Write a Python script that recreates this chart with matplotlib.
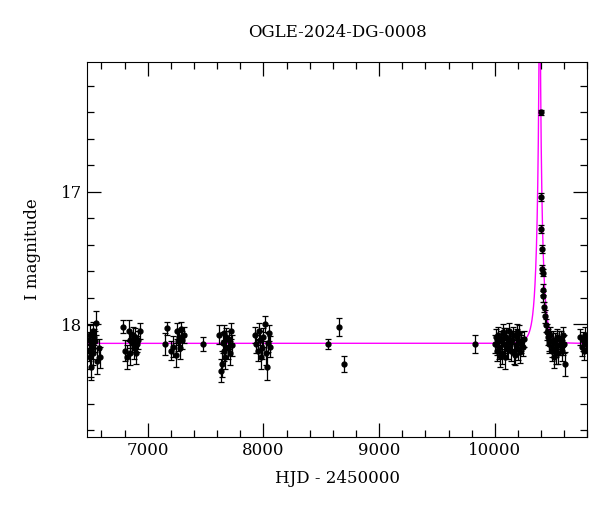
import numpy as np
import matplotlib
matplotlib.use("Agg")
import matplotlib.pyplot as plt
from matplotlib.ticker import MultipleLocator

title = "OGLE-2024-DG-0008"
xlabel = "HJD - 2450000"
ylabel = "I magnitude"

# observations: HJD-2450000, I mag, error
hjd = [6490, 6495, 6500, 6505, 6510, 6515, 6520, 6525, 6530, 6535, 6540, 6550, 6560, 6575, 6585,
       6790, 6800, 6820, 6835, 6845, 6850, 6860, 6870, 6880, 6890, 6900, 6910, 6920, 6930,
       7150, 7170, 7200, 7220, 7240, 7250, 7260, 7270, 7280, 7290, 7300, 7310,
       7480,
       7620, 7630, 7640, 7650, 7655, 7660, 7670, 7680, 7690, 7700, 7710, 7720, 7730,
       7930, 7940, 7950, 7960, 7970, 7980, 7990, 8000, 8010, 8020, 8030, 8040, 8050, 8060,
       8560, 8650, 8700,
       9830,
       10000, 10010, 10020, 10030, 10040, 10050, 10060, 10070, 10080, 10090, 10100, 10110,
       10120, 10130, 10140, 10150, 10160, 10170, 10180, 10190, 10200, 10210, 10220, 10230,
       10240, 10250, 10015, 10045, 10075, 10105, 10135, 10165, 10195, 10225,
       10395, 10400, 10401, 10405, 10410, 10412, 10415, 10418, 10422, 10430, 10440, 10450,
       10460, 10470, 10480, 10490, 10500, 10510, 10520, 10530, 10540, 10550, 10560, 10570,
       10580, 10590, 10600, 10610, 10465, 10495, 10525, 10555, 10585,
       10740, 10750, 10760, 10770, 10780, 10790]
imag = [18.12, 18.20, 18.25, 18.08, 18.32, 18.15, 18.18, 18.05, 18.22, 18.10, 18.13, 17.99, 18.28, 18.18, 18.25,
        18.02, 18.20, 18.25, 18.05, 18.12, 18.22, 18.14, 18.08, 18.18, 18.10, 18.22, 18.15, 18.12, 18.05,
        18.15, 18.03, 18.20, 18.17, 18.23, 18.05, 18.13, 18.10, 18.18, 18.04, 18.12, 18.08,
        18.15,
        18.08, 18.35, 18.30, 18.14, 18.20, 18.07, 18.25, 18.10, 18.18, 18.12, 18.22, 18.05, 18.16,
        18.08, 18.15, 18.20, 18.05, 18.12, 18.25, 18.18, 18.10, 18.00, 18.22, 18.32, 18.14, 18.07, 18.17,
        18.15, 18.02, 18.30,
        18.15,
        18.15, 18.10, 18.20, 18.08, 18.18, 18.12, 18.22, 18.06, 18.15, 18.25, 18.10, 18.18,
        18.05, 18.14, 18.20, 18.12, 18.08, 18.23, 18.16, 18.10, 18.19, 18.07, 18.21, 18.13,
        18.17, 18.11, 18.16, 18.24, 18.09, 18.19, 18.13, 18.22, 18.06, 18.15,
        16.40, 17.04, 17.28, 17.43, 17.58, 17.61, 17.74, 17.79, 17.87, 17.94, 18.01, 18.06,
        18.10, 18.15, 18.08, 18.20, 18.12, 18.25, 18.14, 18.18, 18.10, 18.22, 18.16, 18.12,
        18.20, 18.08, 18.15, 18.30, 18.13, 18.18, 18.22, 18.11, 18.16,
        18.10, 18.17, 18.12, 18.20, 18.08, 18.15]
ierr = [0.06, 0.08, 0.09, 0.07, 0.10, 0.06, 0.08, 0.07, 0.09, 0.06, 0.08, 0.09, 0.10, 0.07, 0.08,
        0.05, 0.08, 0.09, 0.08, 0.06, 0.09, 0.07, 0.06, 0.08, 0.07, 0.08, 0.06, 0.07, 0.06,
        0.08, 0.05, 0.07, 0.08, 0.09, 0.06, 0.07, 0.06, 0.08, 0.06, 0.07, 0.06,
        0.05,
        0.07, 0.09, 0.10, 0.08, 0.08, 0.06, 0.09, 0.07, 0.08, 0.07, 0.09, 0.06, 0.08,
        0.06, 0.07, 0.08, 0.06, 0.07, 0.09, 0.08, 0.07, 0.06, 0.09, 0.10, 0.07, 0.06, 0.08,
        0.04, 0.07, 0.06,
        0.07,
        0.07, 0.06, 0.08, 0.06, 0.08, 0.07, 0.08, 0.06, 0.07, 0.09, 0.07, 0.08,
        0.06, 0.07, 0.08, 0.07, 0.06, 0.08, 0.07, 0.06, 0.08, 0.06, 0.08, 0.07,
        0.07, 0.06, 0.07, 0.08, 0.06, 0.07, 0.07, 0.08, 0.06, 0.07,
        0.02, 0.03, 0.03, 0.03, 0.03, 0.03, 0.04, 0.04, 0.04, 0.05, 0.05, 0.06,
        0.06, 0.07, 0.06, 0.08, 0.07, 0.08, 0.07, 0.07, 0.06, 0.08, 0.07, 0.07,
        0.08, 0.06, 0.07, 0.09, 0.07, 0.07, 0.08, 0.06, 0.07,
        0.06, 0.07, 0.06, 0.07, 0.06, 0.07]

# microlensing model parameters
t0, tE, u0, I0 = 10388.0, 50.0, 0.05, 18.145

fig = plt.figure(figsize=(6.0, 5.12), dpi=100)
ax = fig.add_axes([0.145, 0.147, 0.834, 0.732])

t = np.linspace(6475, 10800, 20000)
u = np.sqrt(u0**2 + ((t - t0) / tE)**2)
A = (u**2 + 2) / (u * np.sqrt(u**2 + 4))
ax.plot(t, I0 - 2.5 * np.log10(A), color="#ff00ff", lw=1.0, zorder=1)

ax.errorbar(hjd, imag, yerr=ierr, fmt="o", color="black", ms=3.5,
            elinewidth=0.9, capsize=2.5, capthick=0.9, zorder=3)

ax.set_xlim(6475, 10800)
ax.set_ylim(18.85, 16.02)
ax.xaxis.set_major_locator(MultipleLocator(1000))
ax.xaxis.set_minor_locator(MultipleLocator(200))
ax.yaxis.set_major_locator(MultipleLocator(1))
ax.yaxis.set_minor_locator(MultipleLocator(0.2))
ax.tick_params(which="both", direction="in", top=True, right=True, width=0.9)
ax.tick_params(which="major", length=10, labelsize=12)
ax.tick_params(which="minor", length=5)
for lab in ax.get_xticklabels() + ax.get_yticklabels():
    lab.set_family("DejaVu Serif")
ax.set_xlabel(xlabel, fontsize=12, family="DejaVu Serif", labelpad=8)
ax.set_ylabel(ylabel, fontsize=12, family="DejaVu Serif", labelpad=14)
ax.set_title(title, fontsize=12, family="DejaVu Serif", pad=18)

fig.savefig("out.png", dpi=100)
